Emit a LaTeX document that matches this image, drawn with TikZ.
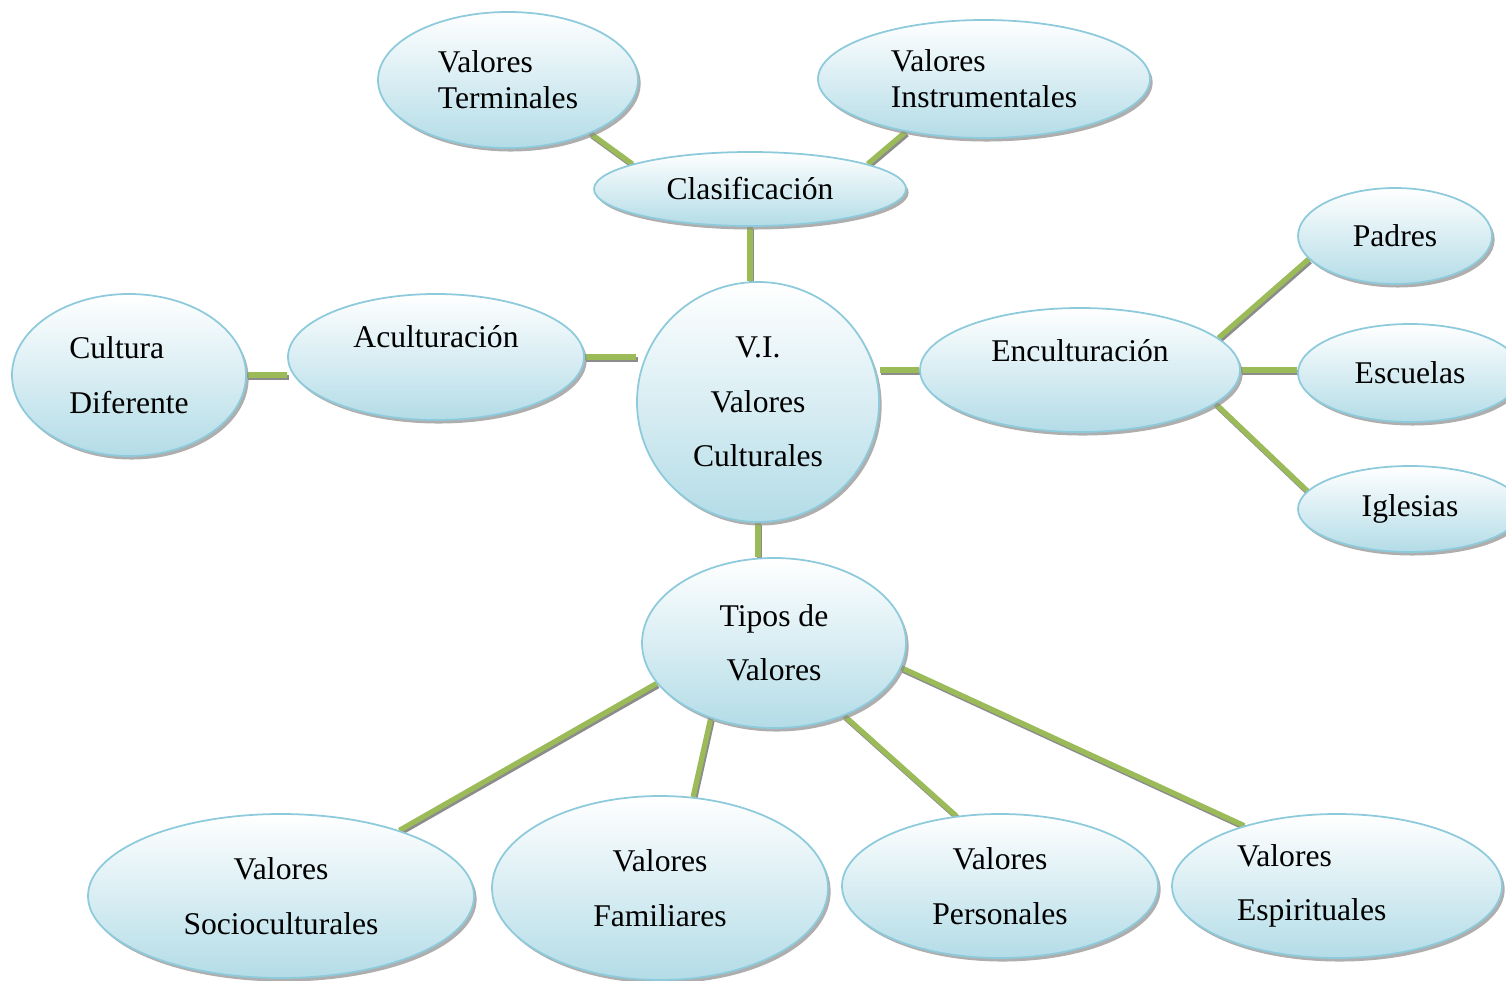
\documentclass[tikz,border=0pt]{standalone}
\usepackage{fontspec}
\setmainfont{Liberation Serif}
\usetikzlibrary{positioning,shapes,shadows,backgrounds}
\definecolor{bubbleline}{HTML}{8DCADB}
\definecolor{bubblefill}{HTML}{B3DCE7}
\definecolor{linkgreen}{HTML}{9BBB59}
\definecolor{linkshade}{HTML}{8C8C8C}

\begin{document}
\begin{tikzpicture}[
        x=0.02cm, y=-0.02cm,
        bubble/.style={ellipse, draw=bubbleline, line width=1pt, top color=white, bottom color=bubblefill,
            inner sep=0pt, align=center, font=\fontsize{18}{31}\selectfont,
            drop shadow={shadow xshift=1.5pt, shadow yshift=-2pt, fill=linkshade, opacity=0.7}},
        bubblesize/.style 2 args={minimum width=#1*0.02cm, minimum height=#2*0.02cm},
        tight/.style={font=\fontsize{18}{20.5}\selectfont, align=left},
        raised/.style={text depth=#1},
        link/.style={line width=3pt, draw=linkgreen,
            preaction={draw=linkshade, line width=3pt, transform canvas={xshift=0.8pt, yshift=-1.3pt}}}
    ]
        \useasboundingbox (0,0) rectangle (1506,980);

        % Clasificacion
        \node (terminales) at (508,80) [bubble,tight,bubblesize={260}{136}] {Valores\\Terminales};
        \node (instrumentales) at (984,79) [bubble,tight,bubblesize={332}{118}] {Valores\\Instrumentales};
        \node (clasif) at (750,189) [bubble,bubblesize={312}{74}] {Clasificación};

        % Centro
        \node (culturales) at (758,402) [bubble,bubblesize={242}{240}] {V.I.\\Valores\\Culturales};

        % Aculturacion
        \node (acult) at (436,357) [bubble,raised=23pt,bubblesize={296}{126}] {Aculturación};
        \node (diferente) at (129,375) [bubble,align=left,bubblesize={234}{162}] {Cultura\\Diferente};

        % Enculturacion
        \node (encult) at (1080,370) [bubble,raised=22pt,bubblesize={320}{124}] {Enculturación};
            \node (padres) at (1395,236) [bubble,bubblesize={194}{96}] {Padres};
            \node (escuelas) at (1410,373) [bubble,bubblesize={224}{98}] {Escuelas};
            \node (iglesias) at (1410,509) [bubble,bubblesize={224}{86}] {Iglesias};

        % Tipos
        \node (tipos) at (774,643) [bubble,bubblesize={264}{170}] {Tipos de\\Valores};
            \node (socio) at (281,896) [bubble,bubblesize={386}{164}] {Valores\\Socioculturales};
            \node (familiares) at (660,888) [bubble,bubblesize={336}{184}] {Valores\\Familiares};
            \node (personales) at (1000,886) [bubble,bubblesize={316}{144}] {Valores\\Personales};
            \node (espirituales) at (1337,886) [bubble,align=left,text width=4cm,bubblesize={330}{144}] {Valores\\Espirituales};


        % Lines
        \begin{scope}[on background layer]
        \draw[link] (terminales.-33) -- (clasif.168);
        \draw[link] (instrumentales.-146) -- (clasif.12);
        \draw[link] (clasif) -- (clasif |- culturales.north);
        \draw[link] (acult.east) -- (acult.east -| culturales.west);
        \draw[link] (diferente.east) -- (diferente.east -| acult.west);
        \draw[link] (culturales.east |- encult.west) -- (encult.west);
        \draw[link] (encult.13) -- (padres.195);
        \draw[link] (encult.east) -- (encult.east -| escuelas.west);
        \draw[link] (encult.-14) -- (iglesias.170);
        \draw[link] (culturales.south) -- (culturales.south |- tipos.north);
        \draw[link] (tipos.-161) -- (socio.29);
        \draw[link] (tipos.230) -- (familiares.70);
        \draw[link] (tipos.-46) -- (personales.122);
        \draw[link] (tipos.-11) -- (espirituales.147);
        \end{scope}
    \end{tikzpicture}
\end{document}
